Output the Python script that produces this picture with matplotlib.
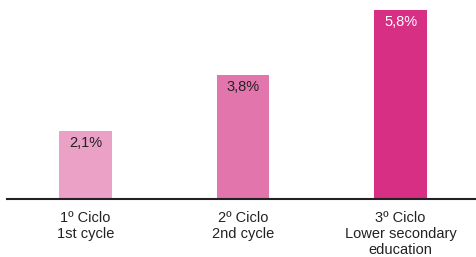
import matplotlib.pyplot as plt

plt.rcParams['font.family'] = ['Liberation Sans', 'DejaVu Sans']

categories = ["1º Ciclo\n1st cycle", "2º Ciclo\n2nd cycle", "3º Ciclo\nLower secondary\neducation"]
values = [2.1, 3.8, 5.8]
value_labels = ["2,1%", "3,8%", "5,8%"]
colors = ["#EBA0C5", "#E275AB", "#D62F84"]
text_colors = ["#222222", "#222222", "#FFFFFF"]

fig = plt.figure(figsize=(4.76, 2.57), dpi=100)
ax = fig.add_axes([7 / 476, 58 / 257, 469 / 476, 199 / 257])

x = range(len(values))
ax.bar(x, values, width=0.336, color=colors)
for i, v in enumerate(values):
    ax.text(i, v - 0.37, value_labels[i], ha='center', va='center',
            fontsize=10.5, color=text_colors[i])

ax.set_xlim(-0.498, 2.479)
ax.set_ylim(0, 6.12)
ax.set_xticks(list(x))
ax.set_xticklabels(categories, fontsize=10.5, color="#222222", linespacing=1.15)
ax.tick_params(axis='x', length=0, pad=9)
ax.set_yticks([])
for s in ['top', 'right', 'left']:
    ax.spines[s].set_visible(False)
ax.spines['bottom'].set_linewidth(1.5)
ax.spines['bottom'].set_color("#222222")

fig.savefig('out.png', dpi=100)
